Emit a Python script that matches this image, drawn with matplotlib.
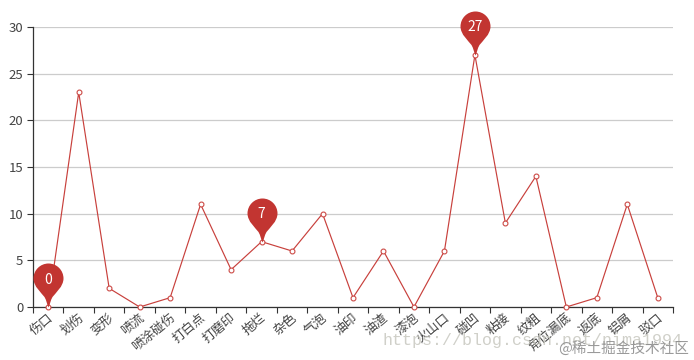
import matplotlib
matplotlib.use("Agg")
import matplotlib.pyplot as plt
from matplotlib.path import Path
from matplotlib.transforms import ScaledTranslation

plt.rcParams['font.family'] = ['Noto Sans CJK SC', 'DejaVu Sans']

categories = ['伤口', '划伤', '变形', '喷流', '喷涂碰伤', '打白点', '打磨印', '拖烂', '杂色', '气泡', '油印',
              '油渣', '漆泡', '火山口', '碰凹', '粘接', '纹粗', '角位漏底', '返底', '铝屑', '驳口']
values = [0, 23, 2, 0, 1, 11, 4, 7, 6, 10, 1, 6, 0, 6, 27, 9, 14, 0, 1, 11, 1]
pin_indices = [0, 7, 14]
y_ticks = [0, 5, 10, 15, 20, 25, 30]

RED = '#c23531'
W, H = 694, 360
fig = plt.figure(figsize=(W / 100, H / 100), dpi=100)
ax = fig.add_axes([33 / W, 1 - 307 / H, 640 / W, 280 / H])
n = len(categories)
xs = list(range(n))
ax.set_xlim(-0.5, n - 0.5)
ax.set_ylim(0, 30)

ax.set_axisbelow(True)
ax.grid(axis='y', color='#cccccc', lw=0.9)
for s in ('top', 'right'):
    ax.spines[s].set_visible(False)
for s in ('left', 'bottom'):
    ax.spines[s].set_color('#333333')
    ax.spines[s].set_linewidth(0.9)

ax.set_yticks(y_ticks)
ax.tick_params(axis='y', length=4, width=0.8, color='#333333', labelcolor='#444444', labelsize=9.5, pad=3)

ax.set_xticks(xs)
ax.set_xticklabels(categories, rotation=40, ha='right', va='center', rotation_mode='anchor',
                   fontsize=9.2, color='#444444')
ax.tick_params(axis='x', which='major', length=0, pad=6.5)
shift = ScaledTranslation(3 / 100, 0, fig.dpi_scale_trans)
for lab in ax.get_xticklabels():
    lab.set_transform(lab.get_transform() + shift)
ax.set_xticks([i - 0.5 for i in range(n + 1)], minor=True)
ax.tick_params(axis='x', which='minor', length=4, width=0.8, color='#333333')

ax.plot(xs, values, color='#c8403c', lw=0.85, marker='o', ms=3.5, mfc='white', mec='#cc4a46', mew=0.8,
        clip_on=False, zorder=3)

# pin marker: tip at the origin, head on top (units are px)
r = 15.0
cy = 29.0
k = 0.5523 * r
verts = [(0, 0),
         (-1.4, 3), (-2, 7), (-4, 10.5),
         (-7, 14.5), (-r, cy - 8), (-r, cy),
         (-r, cy + k), (-k, cy + r), (0, cy + r),
         (k, cy + r), (r, cy + k), (r, cy),
         (r, cy - 8), (7, 14.5), (4, 10.5),
         (2, 7), (1.4, 3), (0, 0),
         (0, 0)]
codes = [Path.MOVETO] + [Path.CURVE4] * 18 + [Path.CLOSEPOLY]
pin = Path(verts, codes)
px = 72 / 100
for i in pin_indices:
    ax.plot([xs[i]], [values[i]], marker=pin, ms=2 * (cy + r) * px, color=RED, mec='none',
            clip_on=False, zorder=4)
    ax.annotate(str(values[i]), (xs[i], values[i]), xytext=(0, (cy - 1.5) * px), textcoords='offset points',
                ha='center', va='center', color='white', fontsize=10, fontweight='medium', zorder=5)

fig.text(383 / W, 1 - 345 / H, 'https://blog.csdn.net/nima1994', family='Liberation Mono',
         fontsize=12, color='#c8c8c0', alpha=0.85, va='baseline', ha='left')
fig.text(558 / W, 1 - 353 / H, '@稀土掘金技术社区', fontsize=10.5, color='#888888', alpha=0.85,
         va='baseline', ha='left')

fig.savefig('out.png', dpi=100)
